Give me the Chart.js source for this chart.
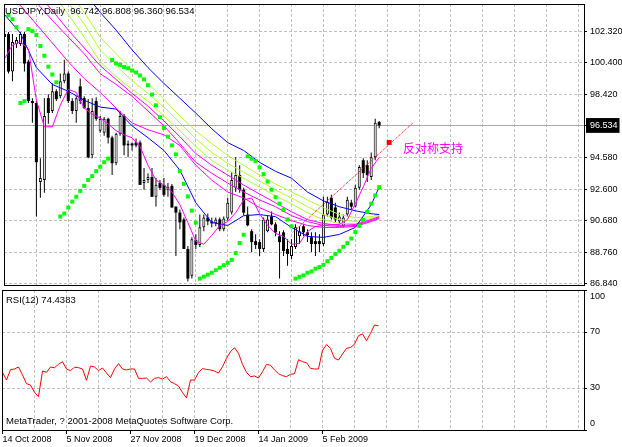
<!DOCTYPE html>
<html>
<head>
<meta charset="utf-8">
<script src="https://cdn.jsdelivr.net/npm/chart.js@4.4.1/dist/chart.umd.min.js"></script>
<style>
  html, body { margin: 0; padding: 0; background: #fff; }
  #wrap { position: relative; width: 622px; height: 447px; overflow: hidden; }
  #price { position: absolute; left: 0; top: 0; }
  #rsi { position: absolute; left: 0; top: 282px; }
</style>
</head>
<body>
<div id="wrap">
  <canvas id="price" width="622" height="289"></canvas>
  <canvas id="rsi" width="622" height="165"></canvas>
</div>
<script>
// bar 0 = 14 Oct 2008, one bar per trading day
const dateLabels = ['14 Oct 2008', '5 Nov 2008', '27 Nov 2008', '19 Dec 2008', '14 Jan 2009', '5 Feb 2009'];
const labelBars = [0, 16, 32, 48, 64, 80];
const gridBars = [0, 8, 16, 24, 32, 40, 48, 56, 64, 72, 80, 88, 96, 104, 112, 120, 128, 136, 144];
const priceTicks = [86.84, 88.76, 90.68, 92.60, 94.58, 96.534, 98.42, 100.40, 102.32];
const rsiTicks = [0, 30, 70, 100];
const lastPrice = 96.534;

const opens = [101.96, 102.14, 99.84, 101.53, 101.53, 102.14, 100.45, 98.03, 97.91, 93.07,
  93.19, 98.21, 97.42, 98.63, 98.33, 99.24, 99.72, 98.03, 97.42, 98.93,
  98.21, 97.60, 94.70, 98.03, 96.21, 96.09, 96.94, 95.79, 94.22, 96.03,
  97.12, 95.31, 95.43, 95.49, 95.49, 93.01, 93.19, 93.37, 92.16, 93.01,
  92.89, 92.59, 92.83, 91.56, 91.19, 90.77, 88.96, 87.32, 89.50, 89.20,
  90.29, 90.89, 90.65, 90.53, 90.77, 90.17, 90.83, 91.19, 92.71, 93.49,
  92.59, 91.07, 90.05, 89.44, 89.38, 88.96, 90.05, 90.95, 90.47, 89.74,
  89.98, 88.96, 88.53, 89.08, 89.74, 90.35, 89.98, 89.68, 89.44, 89.44,
  89.26, 91.07, 92.10, 91.50, 90.65, 90.35, 91.07, 91.80, 91.56, 92.71,
  94.40, 94.10, 93.37, 94.58, 96.742];
const highs = [103.05, 102.26, 102.14, 101.96, 102.26, 102.26, 100.57, 98.21, 98.03, 94.52,
  98.21, 98.45, 99.12, 98.75, 99.72, 100.57, 99.84, 98.21, 98.33, 99.42,
  98.33, 98.15, 98.21, 98.27, 97.12, 97.06, 97.00, 95.91, 96.09, 97.42,
  97.24, 95.61, 95.49, 95.73, 95.61, 93.92, 93.61, 93.92, 93.31, 93.19,
  93.31, 93.01, 92.95, 91.56, 91.38, 90.89, 89.14, 89.68, 89.86, 91.07,
  91.07, 91.13, 90.89, 90.89, 90.89, 90.95, 92.10, 93.67, 94.58, 94.10,
  92.71, 91.56, 90.17, 89.86, 89.56, 90.89, 91.01, 91.25, 90.59, 90.05,
  90.11, 89.56, 89.56, 90.47, 90.35, 90.47, 90.17, 89.98, 89.98, 89.86,
  92.16, 92.16, 92.28, 91.80, 91.19, 91.07, 92.16, 91.98, 92.89, 94.10,
  94.52, 94.40, 94.88, 96.94, 96.808];
const lows = [101.35, 99.72, 99.24, 101.29, 101.41, 99.84, 97.91, 96.70, 90.95, 92.10,
  92.40, 96.64, 97.30, 98.03, 98.21, 99.12, 97.91, 97.24, 96.70, 97.85,
  97.54, 94.52, 94.52, 96.82, 96.09, 95.91, 95.43, 93.49, 94.10, 95.91,
  94.70, 94.58, 95.00, 95.19, 92.89, 92.59, 93.01, 92.16, 91.56, 92.59,
  92.16, 92.16, 91.50, 88.53, 90.17, 88.96, 86.96, 87.14, 88.96, 89.08,
  90.05, 90.41, 90.29, 90.35, 90.05, 90.05, 90.71, 91.07, 92.46, 92.40,
  91.01, 90.35, 88.78, 88.96, 88.53, 88.78, 89.98, 90.41, 89.74, 87.14,
  88.53, 87.93, 88.35, 88.96, 89.26, 89.74, 89.38, 88.78, 88.53, 88.78,
  89.14, 90.95, 90.77, 90.59, 90.47, 90.29, 90.95, 91.38, 91.50, 92.59,
  93.31, 93.07, 93.19, 94.40, 96.36];
const closes = [102.14, 99.84, 101.66, 101.78, 102.14, 100.33, 98.03, 97.91, 94.28, 93.31,
  97.12, 97.30, 98.63, 98.15, 99.24, 99.72, 98.03, 97.42, 98.21, 98.03,
  97.60, 94.58, 97.42, 96.94, 96.94, 96.94, 95.79, 94.22, 96.03, 97.12,
  95.31, 95.43, 95.31, 95.31, 92.89, 93.19, 93.37, 92.16, 92.89, 92.71,
  92.28, 92.77, 91.50, 91.19, 90.59, 88.96, 87.14, 89.56, 89.20, 90.29,
  90.89, 90.65, 90.53, 90.77, 90.17, 90.83, 91.80, 93.19, 93.49, 92.59,
  91.19, 90.41, 89.38, 89.20, 88.96, 90.77, 90.77, 90.47, 89.98, 89.38,
  88.84, 88.65, 89.14, 90.29, 90.05, 89.98, 89.80, 89.26, 89.26, 89.26,
  91.07, 91.86, 90.89, 90.77, 90.95, 90.89, 91.98, 91.56, 92.71, 93.98,
  93.61, 93.49, 94.58, 96.70, 96.534];

// parabolic SAR, one dot per bar
const sar = [null, 103.29, 103.05, 102.56, 97.91, 98.03, 102.44, 102.32, 102.08, 101.41,
  100.81, 100.14, 99.66, 99.18, 90.95, 91.13, 91.50, 91.86, 92.16, 92.52,
  92.83, 93.19, 93.43, 93.73, 94.00, 94.28, 94.50, 100.55, 100.34, 100.25,
  100.12, 100.04, 99.90, 99.78, 99.60, 99.36, 99.00, 98.43, 97.77, 97.04,
  96.38, 95.85, 95.31, 94.76, 93.73, 92.95, 92.18, 91.31, 90.57, 87.14,
  87.26, 87.38, 87.50, 87.66, 87.81, 87.96, 88.11, 88.29, 88.71, 89.32,
  89.83, 94.64, 94.49, 94.34, 93.96, 93.55, 93.09, 92.59, 92.14, 91.74,
  91.35, 90.77, 90.35, 87.14, 87.25, 87.34, 87.50, 87.58, 87.75, 87.85,
  87.99, 88.21, 88.41, 88.65, 88.85, 89.09, 89.32, 89.60, 90.00, 90.37,
  90.73, 91.24, 91.74, 92.24, 92.75];

const rsi = [41.2, 35.7, 43.1, 43.6, 45.0, 39.3, 33.1, 32.1, 26.9, 23.8,
  42.1, 41.2, 45.0, 44.5, 46.9, 48.8, 43.6, 42.4, 44.8, 44.5,
  43.6, 35.5, 45.7, 45.0, 42.4, 44.3, 40.7, 37.4, 43.6, 47.4,
  43.6, 42.9, 43.6, 43.6, 36.9, 36.9, 37.1, 34.3, 36.9, 37.4,
  36.4, 38.1, 34.5, 33.1, 31.4, 26.7, 22.9, 35.7, 35.7, 41.0,
  43.8, 43.3, 42.9, 42.1, 40.7, 45.2, 51.2, 56.0, 58.8, 54.8,
  46.9, 41.2, 38.1, 38.6, 37.1, 41.7, 46.9, 46.2, 42.9, 40.2,
  38.8, 38.1, 39.8, 40.2, 50.2, 48.8, 48.1, 44.0, 43.6, 43.6,
  56.9, 61.0, 58.3, 51.2, 50.0, 54.3, 58.3, 59.0, 61.2, 67.4,
  68.6, 63.8, 69.0, 75.0, 74.4];

// moving averages, read every 4th bar
const lineBars = [0, 4, 8, 12, 16, 20, 24, 28, 32, 36, 40, 44, 48, 52, 56, 60, 64, 68, 72, 76, 80, 84, 88, 92, 94];
const blueSlow = [null, null, null, null, 105.76, 104.68, 103.47, 102.38, 101.17, 100.08, 99.11, 98.20, 97.29, 96.33, 95.48, 95.00, 94.27, 93.72, 93.30, 92.45, 91.91, 91.55, 91.30, 91.12, 91.07];
const blueFast = [103.34, 102.19, 100.08, 99.05, 98.63, 98.08, 97.66, 97.54, 96.51, 95.78, 95.00, 93.79, 91.79, 90.58, 90.40, 91.00, 91.07, 90.94, 90.28, 89.73, 89.67, 89.85, 90.28, 91.67, 92.76];
const lime3 = [null, null, null, 105.89, 104.80, 103.47, 101.95, 100.93, 99.96, 99.11, 98.14, 97.11, 96.21, 95.42, 94.70, 94.09, 93.49, 92.94, 92.46, 91.97, 91.49, 91.07, 90.88, 90.94, 91.07];
const lime2 = [null, null, 106.49, 105.28, 104.07, 102.74, 101.17, 100.20, 99.29, 98.50, 97.66, 96.69, 95.72, 94.88, 94.21, 93.66, 93.12, 92.58, 92.09, 91.55, 91.07, 90.76, 90.64, 90.82, 91.00];
const lime1 = [null, null, 105.89, 104.68, 103.34, 101.95, 100.44, 99.53, 98.75, 98.02, 97.11, 96.21, 95.24, 94.39, 93.79, 93.30, 92.76, 92.21, 91.73, 91.18, 90.76, 90.52, 90.52, 90.76, 90.94];
const mag3 = [null, 105.89, 104.68, 103.59, 102.38, 101.29, 100.20, 99.35, 98.50, 97.72, 96.81, 95.84, 94.81, 94.09, 93.49, 92.88, 92.33, 91.79, 91.24, 90.76, 90.52, 90.40, 90.46, 90.76, 90.94];
const mag2 = [null, 105.28, 104.07, 102.98, 101.95, 100.93, 99.71, 99.05, 98.32, 97.42, 96.51, 95.42, 94.27, 93.60, 93.00, 92.45, 91.97, 91.55, 91.00, 90.64, 90.40, 90.34, 90.40, 90.70, 90.88];
const mag1 = [104.68, 103.89, 102.74, 101.59, 100.44, 99.41, 98.56, 97.60, 96.69, 96.27, 95.96, 95.30, 94.09, 93.18, 92.45, 92.09, 91.49, 91.07, 90.70, 90.40, 90.28, 90.28, 90.34, 90.64, 90.82];

// fast magenta MA, read every 2nd bar
const fastBars = [0, 2, 4, 6, 8, 10, 12, 14, 16, 18, 20, 22, 24, 26, 28, 30, 32, 34, 36, 38, 40, 42, 44, 46,
  48, 50, 52, 54, 56, 58, 60, 62, 64, 66, 68, 70, 72, 74, 76, 78, 80, 82, 84, 86, 88, 90, 92, 94];
const magFast = [100.62, 101.47, 101.65, 101.23, 98.08, 96.45, 96.45, 97.78, 98.75, 98.56, 97.60, 97.23,
  96.99, 96.63, 96.21, 95.96, 95.78, 95.24, 94.09, 93.18, 92.88, 92.45, 91.67, 90.58,
  89.43, 89.25, 89.79, 90.40, 90.64, 91.18, 91.97, 92.09, 91.12, 90.40, 89.91, 89.73,
  89.25, 89.31, 90.03, 90.34, 90.40, 90.46, 90.46, 90.76, 91.73, 92.76, 93.91, 94.57];

// hand drawn trend line and note
const trendBars = [72.3, 102.5];
const trendPrices = [89.98, 96.70];
const markBar = 96.5, markPrice = 95.49;
const noteText = '反对称支持', noteBar = 100, notePrice = 95.12;

const xMin = -0.125, xMax = 145.375;
const yMin = 86.749, yMax = 103.983;

Chart.defaults.font.family = '"Liberation Sans", Arial, sans-serif';
Chart.defaults.font.size = 9;
Chart.defaults.color = '#000';

const pts = (xs, ys) => xs.map((x, i) => ({x, y: ys[i]}));
const bars = closes.map((c, i) => i);
const up = i => closes[i] >= opens[i];
const dash = [3, 2];
const gridGray = '#C0C0C0';

const frame = texts => ({
  id: 'frame',
  afterDraw(chart) {
    const {ctx, chartArea: a} = chart;
    ctx.save();
    ctx.strokeStyle = '#000';
    ctx.lineWidth = 1;
    ctx.strokeRect(Math.round(a.left) + 0.5, Math.round(a.top) + 0.5,
      Math.round(a.right - a.left), Math.round(a.bottom - a.top));
    ctx.fillStyle = '#000';
    ctx.font = '9.5px "Liberation Sans", Arial, sans-serif';
    ctx.textBaseline = 'middle';
    texts.forEach(t => ctx.fillText(t[0], t[1], t[2]));
    ctx.restore();
  }
});

const note = {
  id: 'note',
  afterDatasetsDraw(chart) {
    const {ctx, scales} = chart;
    ctx.save();
    ctx.fillStyle = '#FF00FF';
    ctx.font = '12px "Noto Sans CJK SC"';
    ctx.textBaseline = 'middle';
    ctx.fillText(noteText, scales.x.getPixelForValue(noteBar), scales.y.getPixelForValue(notePrice));
    ctx.restore();
  }
};

const line = (data, color, order) => ({
  type: 'line', data, borderColor: color, borderWidth: 1, pointRadius: 0,
  tension: 0, fill: false, order
});

const header = 'USDJPY,Daily  ' + [opens[94], highs[94], lows[94], closes[94]].map(v => v.toFixed(3)).join(' ');

new Chart(document.getElementById('price'), {
  type: 'bar',
  data: {
    datasets: [
      {
        type: 'bar', data: bars.map(i => ({x: i, y: [lows[i], highs[i]]})),
        backgroundColor: '#000', barThickness: 1, grouped: false, inflateAmount: 0, order: 20
      },
      {
        type: 'bar', data: bars.map(i => ({x: i, y: [opens[i], closes[i]]})),
        backgroundColor: c => up(c.dataIndex) ? '#fff' : '#000',
        borderColor: '#000', borderWidth: c => up(c.dataIndex) ? 1 : 0,
        borderSkipped: false, barThickness: 3, grouped: false, inflateAmount: 0, order: 19
      },
      line(pts(lineBars, lime3), '#ADFF2F', 12),
      line(pts(lineBars, lime2), '#ADFF2F', 12),
      line(pts(lineBars, lime1), '#ADFF2F', 12),
      line(pts(lineBars, mag3), '#FF00FF', 11),
      line(pts(lineBars, mag2), '#FF00FF', 11),
      line(pts(lineBars, mag1), '#FF00FF', 11),
      line(pts(lineBars, blueSlow), '#0000FF', 10),
      line(pts(lineBars, blueFast), '#0000FF', 10),
      line(pts(fastBars, magFast), '#FF00FF', 9),
      {
        type: 'line', data: bars.map(i => ({x: i, y: sar[i]})), showLine: false,
        pointStyle: 'rect', pointRadius: 2.8, pointBackgroundColor: '#00FF00', pointBorderWidth: 0, order: 5
      },
      Object.assign(line(pts(trendBars, trendPrices), '#FF0000', 3), {borderDash: [1, 1]}),
      {
        type: 'line', data: [{x: markBar, y: markPrice}], showLine: false,
        pointStyle: 'rect', pointRadius: 3.5, pointBackgroundColor: '#FF0000', pointBorderWidth: 0, order: 2
      }
    ]
  },
  options: {
    responsive: false, animation: false, devicePixelRatio: 1,
    layout: {padding: {left: 2, top: 2, right: 0, bottom: 2}},
    plugins: {legend: {display: false}, tooltip: {enabled: false}},
    scales: {
      x: {
        type: 'linear', min: xMin, max: xMax, offset: false,
        grid: {offset: false, color: gridGray, drawTicks: false},
        border: {display: false, dash},
        ticks: {display: false},
        afterBuildTicks: s => { s.ticks = gridBars.map(v => ({value: v})); },
        afterFit: s => { s.height = 0; s.paddingLeft = 0; s.paddingRight = 0; }
      },
      y: {
        position: 'right', min: yMin, max: yMax, beginAtZero: false,
        grid: {
          color: c => (c.tick && c.tick.value === lastPrice) ? '#A8A8A8' : gridGray,
          tickColor: '#000', tickLength: 3
        },
        border: {display: false, dash: c => (c.tick && c.tick.value === lastPrice) ? [] : dash},
        ticks: {
          padding: 3,
          callback: v => v.toFixed(3),
          color: c => (c.tick && c.tick.value === lastPrice) ? '#fff' : '#000',
          showLabelBackdrop: c => !!(c.tick && c.tick.value === lastPrice),
          backdropColor: '#000',
          backdropPadding: {top: 2, bottom: 2, left: 4, right: 2}
        },
        afterBuildTicks: s => { s.ticks = priceTicks.map(v => ({value: v})); },
        afterFit: s => { s.width = 38; s.paddingTop = 0; s.paddingBottom = 0; }
      }
    }
  },
  plugins: [frame([[header, 5, 11]]), note]
});

new Chart(document.getElementById('rsi'), {
  type: 'line',
  data: {
    datasets: [{
      data: bars.map(i => ({x: i, y: rsi[i]})), borderColor: '#FF0000', borderWidth: 1,
      pointRadius: 0, tension: 0, fill: false
    }]
  },
  options: {
    responsive: false, animation: false, devicePixelRatio: 1,
    layout: {padding: {left: 2, top: 8, right: 0, bottom: 0}},
    plugins: {legend: {display: false}, tooltip: {enabled: false}},
    scales: {
      x: {
        type: 'linear', min: xMin, max: xMax, offset: false,
        grid: {
          color: gridGray, tickLength: 4,
          tickColor: c => (c.tick && labelBars.includes(c.tick.value)) ? '#000' : 'rgba(0,0,0,0)'
        },
        border: {display: false, dash},
        ticks: {
          align: 'start', padding: 0, autoSkip: false, maxRotation: 0,
          callback: v => { const k = labelBars.indexOf(v); return k >= 0 ? dateLabels[k] : ''; }
        },
        afterBuildTicks: s => { s.ticks = gridBars.map(v => ({value: v})); },
        afterFit: s => { s.height = 17; s.paddingLeft = 0; s.paddingRight = 0; }
      },
      y: {
        position: 'right', min: 0, max: 100,
        grid: {color: gridGray, tickColor: '#000', tickLength: 3},
        border: {display: false, dash},
        ticks: {
          padding: 3, font: {size: 9, lineHeight: 1.5},
          callback: v => v === 100 ? ['', '100'] : v === 0 ? ['0', ''] : String(v)
        },
        afterBuildTicks: s => { s.ticks = rsiTicks.map(v => ({value: v})); },
        afterFit: s => { s.width = 38; s.paddingTop = 0; s.paddingBottom = 0; }
      }
    }
  },
  plugins: [frame([['RSI(12) 74.4383', 6, 18], ['MetaTrader, ? 2001-2008 MetaQuotes Software Corp.', 6, 139]])]
});
</script>
</body>
</html>
